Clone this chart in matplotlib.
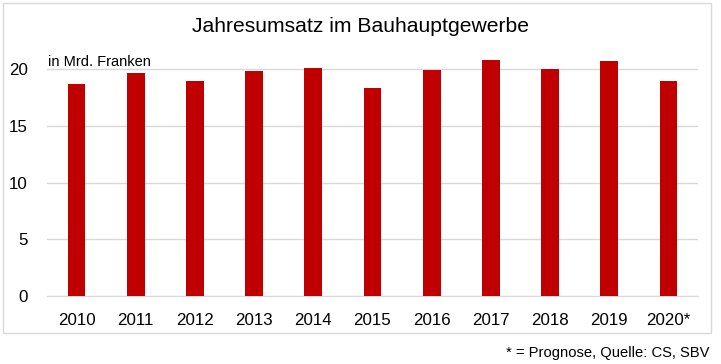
import numpy as np
import matplotlib
matplotlib.use('Agg')
from matplotlib import pyplot as plt
from matplotlib.patches import Rectangle

years = ['2010', '2011', '2012', '2013', '2014', '2015', '2016', '2017', '2018', '2019', '2020*']
umsatz = [18.7, 19.7, 19.0, 19.85, 20.1, 18.35, 19.95, 20.85, 20.05, 20.75, 19.0]
yticks = [0, 5, 10, 15, 20]

plt.rcParams['font.family'] = ['Liberation Sans', 'DejaVu Sans']

fig = plt.figure(figsize=(7.21, 3.64), dpi=100)
ax = fig.add_axes([47/721, 1 - 296/364, (698-47)/721, (296-50)/364])

x = np.arange(len(years))
ax.bar(x, umsatz, width=0.3, color='#c00000', zorder=3)
ax.set_xlim(-0.5, len(years) - 0.5)
ax.set_ylim(0, 21.7)
ax.set_yticks(yticks)
ax.set_xticks(x)
ax.set_xticklabels(years)
ax.yaxis.grid(True, color='#d9d9d9', linewidth=1, zorder=0)
ax.tick_params(axis='both', length=0, labelsize=12.2, colors='#000000')
ax.tick_params(axis='x', pad=12)
ax.tick_params(axis='y', pad=14)
for s in ['top', 'right', 'left']:
    ax.spines[s].set_visible(False)
ax.spines['bottom'].set_color('#d9d9d9')

ax.text(-0.48, 20.6, 'in Mrd. Franken', fontsize=10.5, ha='left', va='center')
fig.text(0.5, 1 - 27/364, 'Jahresumsatz im Bauhauptgewerbe', fontsize=15.2, ha='center', va='center')
fig.text(710/721, 1 - 353/364, '* = Prognose, Quelle: CS, SBV', fontsize=10.6, ha='right', va='center')

fig.patches.append(Rectangle((3/721, 1 - 333/364), (711-3)/721, (333-3)/364,
                             transform=fig.transFigure, fill=False, edgecolor='#d9d9d9', linewidth=1))

fig.savefig('out.png', dpi=100)
